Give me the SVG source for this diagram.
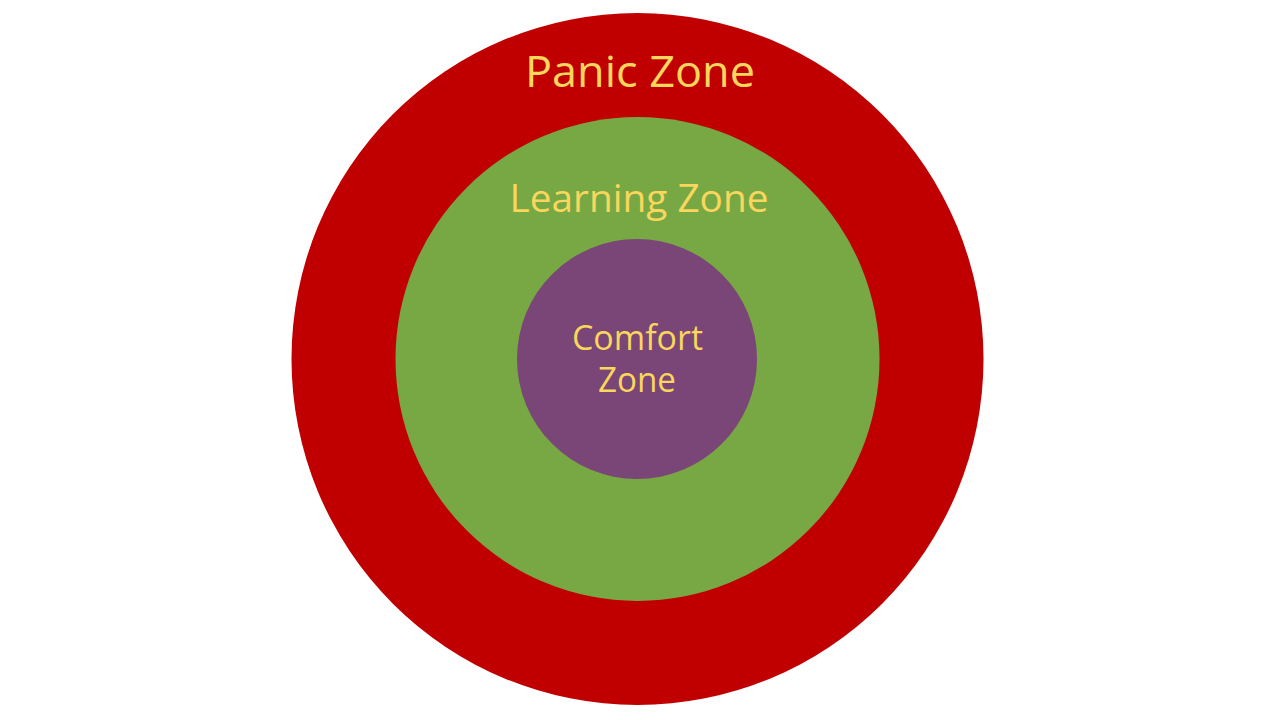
<svg xmlns="http://www.w3.org/2000/svg" width="1280" height="720" viewBox="0 0 1280 720">
<style>
.t{font-family:"Open Sans",Lato,"Liberation Sans",sans-serif;fill:#F9D65C;text-anchor:middle}
</style>
<rect width="1280" height="720" fill="#FFFFFF"/>
<g id="panic">
<circle cx="637.5" cy="359" r="346" fill="#C00000"/>
<text class="t" x="640" y="87" font-size="43" textLength="230" lengthAdjust="spacingAndGlyphs">Panic Zone</text>
</g>
<g id="learning">
<circle cx="637.5" cy="359" r="242" fill="#78A843"/>
<text class="t" x="639" y="212" font-size="39" textLength="259" lengthAdjust="spacingAndGlyphs">Learning Zone</text>
</g>
<g id="comfort">
<circle cx="637" cy="359" r="120" fill="#7A4577"/>
<text class="t" x="637.5" y="350" font-size="34" textLength="131" lengthAdjust="spacingAndGlyphs">Comfort</text>
<text class="t" x="637" y="392" font-size="34" textLength="78" lengthAdjust="spacingAndGlyphs">Zone</text>
</g>
<g id="connectors"/>
</svg>
